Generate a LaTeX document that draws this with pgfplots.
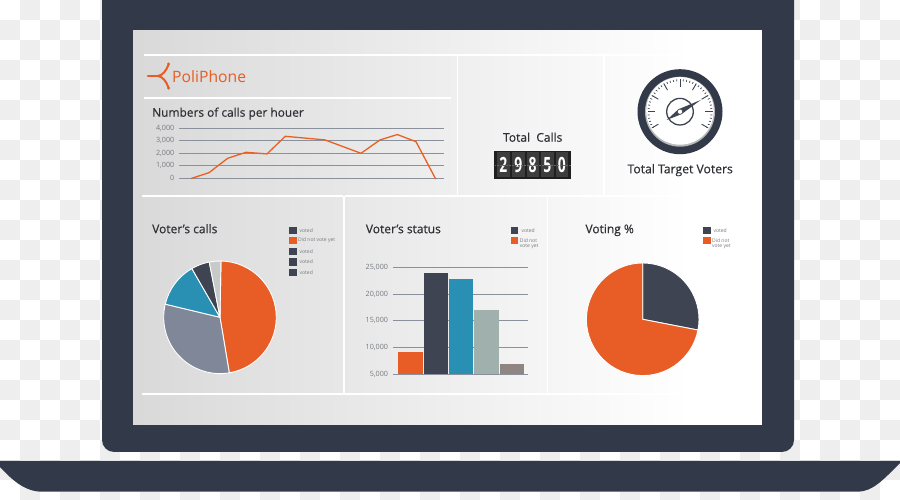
\documentclass[border=0pt]{standalone}
\usepackage{fontspec}
\usepackage{pgfplots}
\pgfplotsset{compat=1.18}
\setmainfont{Open Sans}
\newfontfamily\tf[FakeBold=0.4]{Open Sans}
\definecolor{body}{HTML}{323A49}
\definecolor{chk}{HTML}{EEEEEE}
\definecolor{org}{HTML}{E75D25}
\definecolor{dk}{HTML}{3E4451}
\definecolor{tl}{HTML}{2A90B3}
\definecolor{gy}{HTML}{7F8798}
\definecolor{lg}{HTML}{C8C9C9}
\definecolor{sage}{HTML}{9FB0AD}
\definecolor{mv}{HTML}{8F8583}
\definecolor{grd}{HTML}{8A909C}
\definecolor{ttl}{HTML}{2F3136}
\definecolor{lab}{HTML}{75797F}
\newcommand\slice[3]{\fill[#3,draw=white,line width=0.9pt,line join=round] (axis cs:0,0) -- (axis cs:{cos(#1)},{sin(#1)}) arc[start angle=#1,end angle=#2,radius=56.3pt] -- cycle;}
\pgfplotsset{pie/.style={hide axis,scale only axis,width=112.6pt,height=112.6pt,xmin=-1,xmax=1,ymin=-1,ymax=1,clip=false,anchor=center},
 dash/.style={scale only axis,axis line style={draw=none},major tick length=0pt,ymajorgrids,
  grid style={grd,line width=1pt},xtick=\empty,clip=false,scaled y ticks=false,
  /pgf/number format/assume math mode=true,/pgf/number format/1000 sep={,},
  tick label style={font=\fontsize{7.2}{8}\selectfont,text=lab},
  yticklabel style={inner sep=0pt,xshift=-4.5pt},anchor=south west}}
\begin{document}
\begin{tikzpicture}[x=1pt,y=1pt]
\path[use as bounding box] (0,0) rectangle (900,500);
\begin{scope}[yshift=500pt,y=-1pt]
\fill[white] (0,0) rectangle (900,500);
\foreach \i in {0,...,44}{\foreach \j in {0,...,24}{
  \pgfmathparse{int(mod(\i+\j,2))}
  \ifnum\pgfmathresult=1 \fill[chk] (\i*20,\j*20) rectangle ++(20,20);\fi}}
% laptop
\fill[body,rounded corners=12pt] (102,-20) rectangle (794,452);
\fill[body] (0,461) -- (900,461) -- (900,463) .. controls (885,478) and (873,491.7) .. (858,491.7) -- (42,491.7) .. controls (25,491.7) and (12,480) .. (0,467) -- cycle;
% screen
\fill[white] (133,30.4) rectangle (762,425);
\shade[left color=black!15,right color=white] (133,31) rectangle (690,425);
% panel rules
\begin{scope}[white,line width=1.6pt]
\draw (144,55) -- (762,55);
\draw (144,98.3) -- (451,98.3);
\draw (457.3,55) -- (457.3,195.5);
\draw (604,55) -- (604,195.5);
\draw (142,196) -- (342.5,196);
\draw (345,196) -- (762,196);
\draw (343.7,196) -- (343.7,393.5);
\draw (547.5,196) -- (547.5,393.5);
\draw (142,394.3) -- (762,394.3);
\end{scope}
% logo
\begin{scope}[org,line cap=round]
\draw[line width=2.6pt] (148,76) -- (160,76);
\draw[line width=2pt,fill=none] (168.6,64.5) .. controls (166,71) and (163,75) .. (158,76) .. controls (163,77) and (166,81) .. (168.6,87.8);
\fill (168.6,64) circle (1.6pt);\fill (168.6,88.2) circle (1.6pt);
\end{scope}
\node[anchor=base west,inner sep=0pt,text=org,font=\fontsize{15.7}{18}\selectfont] at (172,82.6) {PoliPhone};
% titles
\node[anchor=base west,inner sep=0pt,text=ttl,font=\fontsize{11.9}{14}\tf] at (152,116.7) {Numbers of calls per houer};
\node[anchor=base,inner sep=0pt,text=ttl,font=\fontsize{12}{14}\tf] at (532.7,141.7) {Total\ \ Calls};
\node[anchor=base,inner sep=0pt,text=ttl,font=\fontsize{12.2}{14}\tf] at (680.2,173.3) {Total Target Voters};
\node[anchor=base west,inner sep=0pt,text=ttl,font=\fontsize{12}{14}\tf] at (152,233.2) {Voter’s calls};
\node[anchor=base west,inner sep=0pt,text=ttl,font=\fontsize{12}{14}\tf] at (365.7,233.2) {Voter’s status};
\node[anchor=base west,inner sep=0pt,text=ttl,font=\fontsize{12}{14}\tf] at (585.3,233.2) {Voting \%};
% counter
\fill[black!88] (494.3,150.7) rectangle (571.3,178.7);
\foreach \c/\d in {503.3/2,518.3/9,532.7/8,547.3/5,561.7/0}{
  \fill[black!76] (\c-6.2,152.5) rectangle (\c+6.2,176.9);
  \node[inner sep=0pt,text=white,font=\fontsize{21}{22}\selectfont\bfseries,xscale=0.66] at (\c,164.7) {\d};
}
\draw[black!60,line width=0.5pt,densely dotted] (495,165) -- (571,165);
% gauge
\begin{scope}[shift={(680,111.7)}]
\fill[body] (0,0) circle (42.5pt);
\fill[black!28] (0,0) circle (35pt);
\fill[white] (0,-0.8) circle (33.8pt);
\foreach \a in {-30,-24,...,210}{\draw[dk,line width=0.7pt] (\a:30.5pt) -- (\a:32.5pt);}
\foreach \a in {-30,0,...,210}{\draw[dk,line width=0.9pt] (\a:25pt) -- (\a:32pt);}
\draw[dk,line width=1.3pt] (0,0) circle (13.3pt);
\fill[dk] (20.7,-11.7) -- (1.6,2.4) -- (-13.3,8.3) -- (-1.6,-2.4) -- cycle;
\fill[white] (0,0) circle (2.6pt);
\draw[dk,line width=0.5pt] (0,0) circle (2.6pt);
\end{scope}
% legends
\begin{scope}[font=\fontsize{5}{5.6}\selectfont,text=lab]
\foreach \y/\c/\t in {230.3/dk/voted,251.3/dk/voted,262/dk/voted,272.3/dk/voted}{
  \fill[\c] (289.3,\y-3.7) rectangle ++(7.6,7.4);
  \node[anchor=west,inner sep=0pt] at (299.5,\y) {\t};}
\fill[org] (289.3,237) rectangle ++(7.6,7.4);
\node[anchor=west,inner sep=0pt] at (298,240.7) {Did not vote yet};
\fill[dk] (511.3,226.6) rectangle ++(7,7.4);
\node[anchor=west,inner sep=0pt] at (521.3,230.3) {voted};
\fill[org] (511.3,236.8) rectangle ++(7,7.2);
\node[anchor=base west,inner sep=0pt] at (519.7,243) {Did not};
\node[anchor=base west,inner sep=0pt] at (519.7,247.6) {vote yet};
\fill[dk] (703.3,226.6) rectangle ++(7.4,7.4);
\node[anchor=west,inner sep=0pt] at (713.3,230.3) {voted};
\fill[org] (703.3,236.8) rectangle ++(7.4,7.2);
\node[anchor=base west,inner sep=0pt] at (712,243) {Did not};
\node[anchor=base west,inner sep=0pt] at (712,247.6) {vote yet};
\end{scope}
\end{scope}
% line chart
\begin{axis}[dash,at={(179pt,321.7pt)},width=265.3pt,height=50pt,xmin=179,xmax=444.3,ymin=0,ymax=4000,ytick={0,1000,2000,3000,4000}]
\addplot[color=org!90!orange,line width=1.3pt,line join=round] coordinates {(191,-20) (209,450) (227.7,1600) (246,2080) (267,1950) (285.3,3360) (325,3070) (361,2000) (380,3070) (397.3,3500) (416,2930) (435.7,-60)};
\end{axis}
% bar chart
\begin{axis}[dash,at={(392.7pt,125.7pt)},width=135.6pt,height=107pt,xmin=-0.70,xmax=4.638,ymin=5000,ymax=25000,ytick={5000,10000,15000,20000,25000}]
\addplot[ybar,bar width=24.4pt,bar shift=0pt,fill=org,draw=none] coordinates {(0,9240)};
\addplot[ybar,bar width=24.4pt,bar shift=0pt,fill=dk,draw=none] coordinates {(1,24000)};
\addplot[ybar,bar width=24.4pt,bar shift=0pt,fill=tl,draw=none] coordinates {(2,22750)};
\addplot[ybar,bar width=24.4pt,bar shift=0pt,fill=sage,draw=none] coordinates {(3,17090)};
\addplot[ybar,bar width=24.4pt,bar shift=0pt,fill=mv,draw=none] coordinates {(4,7000)};
\end{axis}
% pies
\begin{axis}[pie,at={(220pt,182.7pt)}]
\slice{89}{-80.5}{org}
\slice{-80.5}{-193.5}{gy}
\slice{166.5}{120}{tl}
\slice{120}{101}{dk}
\slice{101}{89}{lg}
\end{axis}
\begin{axis}[pie,at={(642.7pt,180.7pt)}]
\slice{90}{-11}{dk}
\slice{-11}{-270}{org}
\end{axis}
\end{tikzpicture}
\end{document}
